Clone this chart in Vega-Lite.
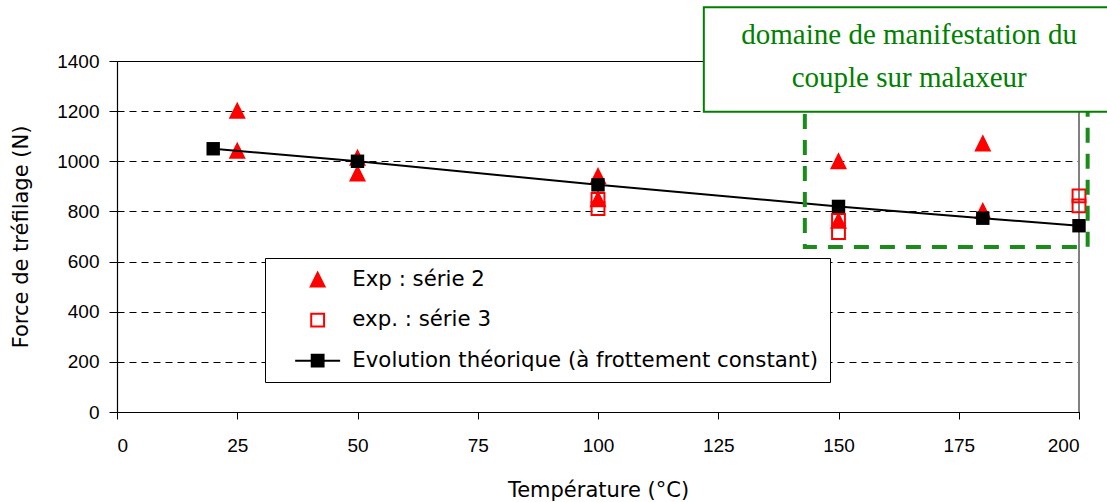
{
  "$schema": "https://vega.github.io/schema/vega-lite/v6.json",
  "width": 962,
  "height": 351,
  "autosize": {"type": "none"},
  "padding": {"left": 117, "top": 61, "right": 28, "bottom": 90},
  "background": "white",
  "config": {
    "view": {"stroke": "black", "strokeWidth": 1}
  },
  "datasets": {
    "pts": [
      {"t": 25, "f": 1201, "serie": "Exp : série 2"},
      {"t": 25, "f": 1042, "serie": "Exp : série 2"},
      {"t": 50, "f": 1014, "serie": "Exp : série 2"},
      {"t": 50, "f": 951, "serie": "Exp : série 2"},
      {"t": 100, "f": 941, "serie": "Exp : série 2"},
      {"t": 100, "f": 848, "serie": "Exp : série 2"},
      {"t": 150, "f": 1000, "serie": "Exp : série 2"},
      {"t": 150, "f": 762, "serie": "Exp : série 2"},
      {"t": 180, "f": 1071, "serie": "Exp : série 2"},
      {"t": 180, "f": 801, "serie": "Exp : série 2"},
      {"t": 100, "f": 848, "serie": "exp. : série 3"},
      {"t": 100, "f": 811, "serie": "exp. : série 3"},
      {"t": 150, "f": 764, "serie": "exp. : série 3"},
      {"t": 150, "f": 716, "serie": "exp. : série 3"},
      {"t": 200, "f": 862, "serie": "exp. : série 3"},
      {"t": 200, "f": 822, "serie": "exp. : série 3"}
    ],
    "theo": [
      {"t": 20, "f": 1050},
      {"t": 50, "f": 1000},
      {"t": 100, "f": 906},
      {"t": 150, "f": 820},
      {"t": 180, "f": 773},
      {"t": 200, "f": 743}
    ],
    "zone": [{"x1": 143, "x2": 201.8, "y1": 658, "y2": 1250}],
    "box": [{"x1": 122, "x2": 206.5, "y1": 1198, "y2": 1614}],
    "notes": [
      {"x": 164.7, "y": 1466, "label": "domaine de manifestation du"},
      {"x": 164.7, "y": 1298, "label": "couple sur malaxeur"}
    ],
    "edge": [{"x": 200}]
  },
  "layer": [
    {
      "data": {"name": "edge"},
      "mark": {"type": "rule", "color": "#808080", "strokeWidth": 2},
      "encoding": {
        "x": {"field": "x", "type": "quantitative", "scale": {"domain": [0, 200], "nice": false},
          "axis": {"values": [0, 25, 50, 75, 100, 125, 150, 175, 200], "format": "d", "title": "Température (°C)", "grid": false,
            "labelFont": "Liberation Sans", "labelFontSize": 19, "labelColor": "black", "labelPadding": 17,
            "titleFont": "DejaVu Sans", "titleFontSize": 21, "titleFontWeight": "normal", "titleColor": "black", "titlePadding": 24,
            "domainColor": "black", "domainWidth": 1.2, "tickColor": "black", "tickSize": 7, "tickWidth": 1}}
      }
    },
    {
      "data": {"name": "pts"},
      "mark": {"type": "point", "opacity": 1, "strokeWidth": 2},
      "encoding": {
        "x": {"field": "t", "type": "quantitative"},
        "y": {"field": "f", "type": "quantitative", "scale": {"domain": [0, 1400], "nice": false},
          "axis": {"values": [0, 200, 400, 600, 800, 1000, 1200, 1400], "format": "d", "title": "Force de tréfilage (N)", "grid": true, "gridColor": "black", "gridDash": [7, 5], "gridWidth": 1,
            "labelFont": "Liberation Sans", "labelFontSize": 19, "labelColor": "black", "labelPadding": 10,
            "titleFont": "DejaVu Sans", "titleFontSize": 21, "titleFontWeight": "normal", "titleColor": "black", "titlePadding": 25,
            "domainColor": "black", "domainWidth": 1.2, "tickColor": "black", "tickSize": 8, "tickWidth": 1}},
        "shape": {"field": "serie", "type": "nominal",
          "scale": {"domain": ["Exp : série 2", "exp. : série 3", "Evolution théorique (à frottement constant)"],
            "range": ["M0,-1L-1,1L1,1Z", "square", "M-3.8,0H3.8M-1,-1H1V1H-1Z"]},
          "legend": {"title": null, "orient": "none", "legendX": 148, "legendY": 197, "padding": 11,
            "strokeColor": "black", "fillColor": "white", "symbolStrokeWidth": 2, "symbolOffset": 31,
            "labelOffset": 24, "rowPadding": 17.5, "labelLimit": 700,
            "labelFont": "DejaVu Sans", "labelFontSize": 21.3, "labelColor": "black"}},
        "fill": {"field": "serie", "type": "nominal",
          "scale": {"domain": ["Exp : série 2", "exp. : série 3", "Evolution théorique (à frottement constant)"],
            "range": ["#ff0000", "transparent", "black"]},
          "legend": {"title": null}},
        "stroke": {"field": "serie", "type": "nominal",
          "scale": {"domain": ["Exp : série 2", "exp. : série 3", "Evolution théorique (à frottement constant)"],
            "range": ["#ff0000", "#ff0000", "black"]},
          "legend": {"title": null}},
        "size": {"field": "serie", "type": "nominal",
          "scale": {"domain": ["Exp : série 2", "exp. : série 3", "Evolution théorique (à frottement constant)"],
            "range": [190, 140, 160]},
          "legend": {"title": null}}
      }
    },
    {
      "data": {"name": "theo"},
      "mark": {"type": "line", "color": "black", "strokeWidth": 2},
      "encoding": {
        "x": {"field": "t", "type": "quantitative"},
        "y": {"field": "f", "type": "quantitative"}
      }
    },
    {
      "data": {"name": "theo"},
      "mark": {"type": "point", "shape": "square", "filled": true, "color": "black", "opacity": 1, "size": 180},
      "encoding": {
        "x": {"field": "t", "type": "quantitative"},
        "y": {"field": "f", "type": "quantitative"}
      }
    },
    {
      "data": {"name": "zone"},
      "mark": {"type": "rect", "fill": null, "fillOpacity": 0, "stroke": "#1a8c1a", "strokeWidth": 4, "strokeDash": [15, 11]},
      "encoding": {
        "x": {"field": "x1", "type": "quantitative"},
        "x2": {"field": "x2"},
        "y": {"field": "y1", "type": "quantitative"},
        "y2": {"field": "y2"}
      }
    },
    {
      "data": {"name": "box"},
      "mark": {"type": "rect", "fill": "white", "stroke": "#008000", "strokeWidth": 2},
      "encoding": {
        "x": {"field": "x1", "type": "quantitative"},
        "x2": {"field": "x2"},
        "y": {"field": "y1", "type": "quantitative"},
        "y2": {"field": "y2"}
      }
    },
    {
      "data": {"name": "notes"},
      "mark": {"type": "text", "font": "Liberation Serif", "fontSize": 29, "color": "#008000", "align": "center", "baseline": "alphabetic"},
      "encoding": {
        "x": {"field": "x", "type": "quantitative"},
        "y": {"field": "y", "type": "quantitative"},
        "text": {"field": "label"}
      }
    }
  ]
}
